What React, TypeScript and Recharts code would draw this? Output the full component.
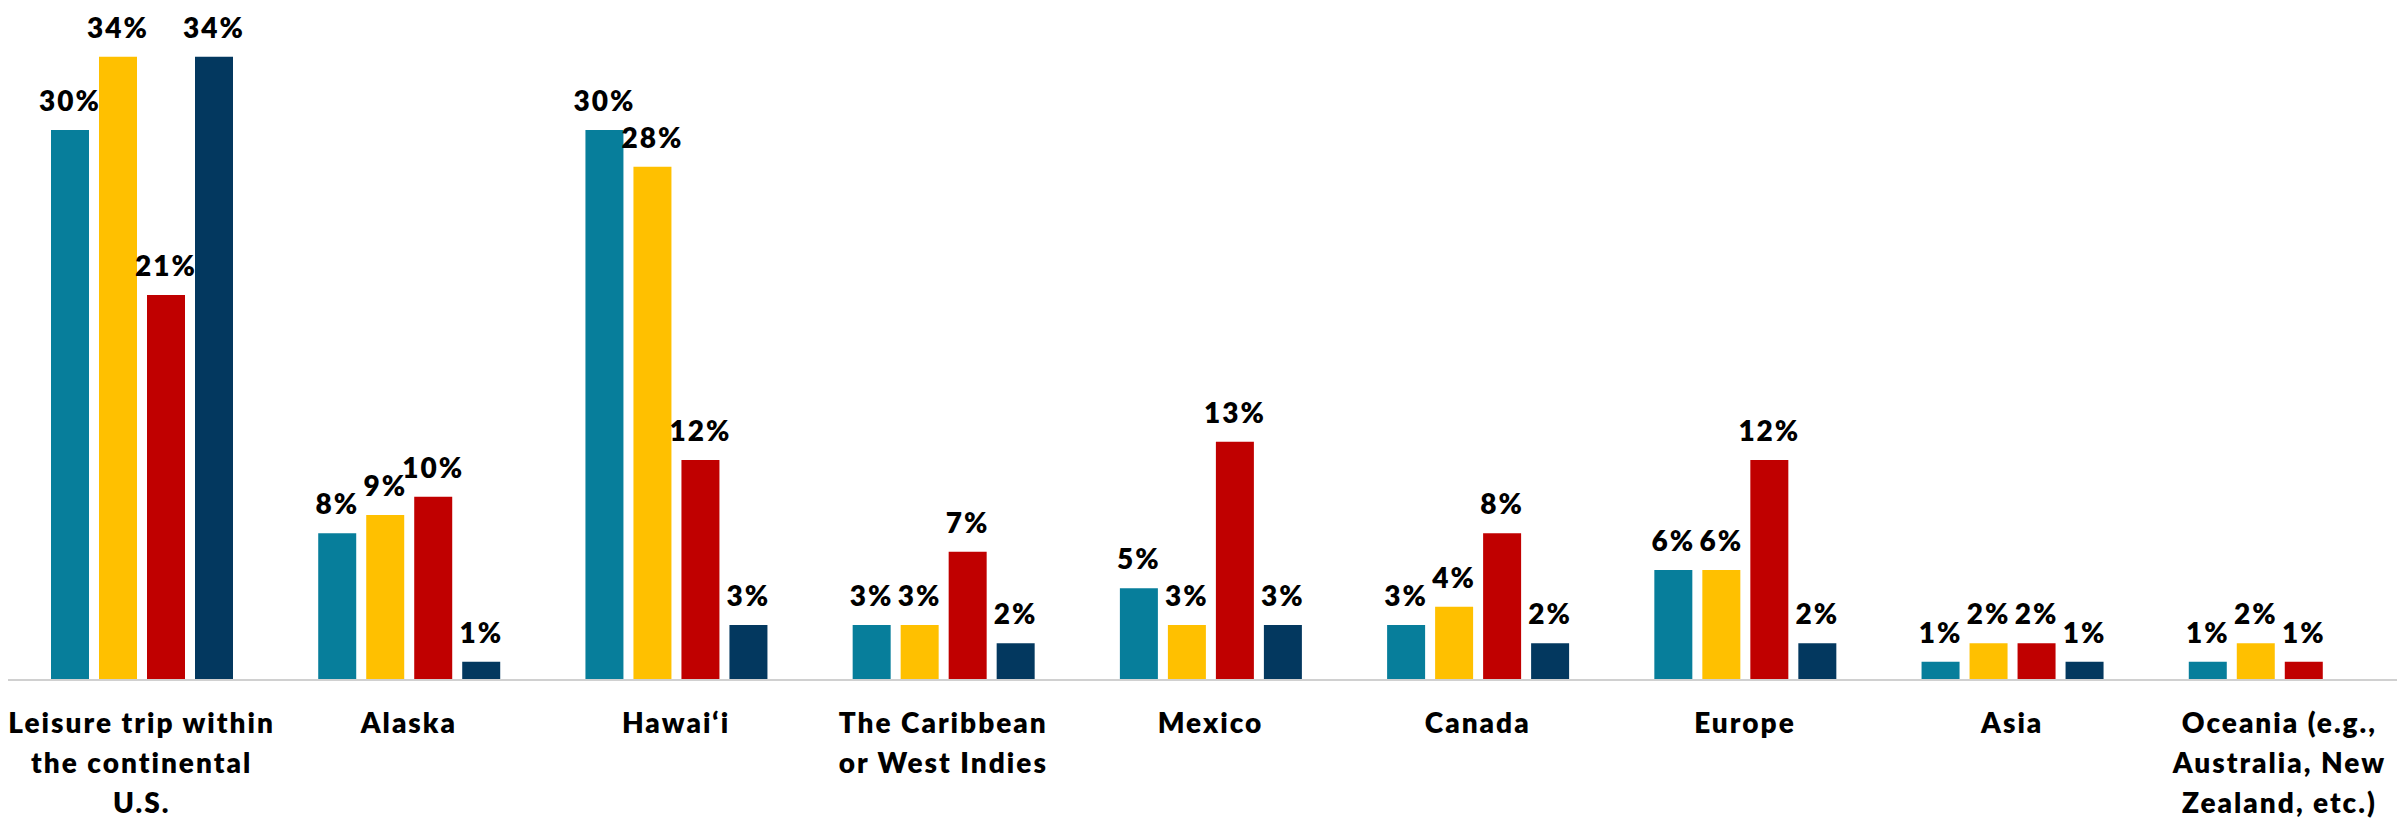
import React from "react";
import { BarChart, Bar, XAxis, YAxis, LabelList } from "recharts";

const categories = [
  "Leisure trip within\nthe continental\nU.S.",
  "Alaska",
  "Hawai\u2018i",
  "The Caribbean\nor West Indies",
  "Mexico",
  "Canada",
  "Europe",
  "Asia",
  "Oceania (e.g.,\nAustralia, New\nZealand, etc.)",
];
const seriesA = [30, 8, 30, 3, 5, 3, 6, 1, 1];
const seriesB = [34, 9, 28, 3, 3, 4, 6, 2, 2];
const seriesC = [21, 10, 12, 7, 13, 8, 12, 2, 1];
const seriesD: (number | null)[] = [34, 1, 3, 2, 3, 2, 2, 1, null];

const colors = ["#077E9B", "#FFC000", "#C00000", "#03385F"];
const keys = ["a", "b", "c", "d"];

const data = categories.map((name, i) => ({
  name,
  a: seriesA[i],
  b: seriesB[i],
  c: seriesC[i],
  d: seriesD[i],
}));

const FONT = "Lato, 'Noto Sans', sans-serif";

const Tick = (props: any) => {
  const { x, y, payload } = props;
  const lines = String(payload.value).split("\n");
  return (
    <g transform={`translate(${x},${y})`}>
      <text
        textAnchor="middle"
        fontFamily={FONT}
        fontWeight={800}
        fontSize={28}
        letterSpacing={2}
        fill="#000"
      >
        {lines.map((l, i) => (
          <tspan key={i} x={0} y={53 + i * 40}>
            {l}
          </tspan>
        ))}
      </text>
    </g>
  );
};

const fmt = (v: any) => (v == null ? "" : `${v}%`);

export default function App() {
  return (
    <div style={{ position: "fixed", left: 0, top: 0, width: 2397, height: 818, overflow: "hidden", background: "#fff" }}>
      <BarChart
        width={2413}
        height={818}
        data={data}
        margin={{ top: 20, right: 0, left: 8, bottom: 0 }}
        barGap={10}
      >
        <XAxis
          dataKey="name"
          height={138}
          interval={0}
          tickLine={false}
          tickSize={0}
          tickMargin={0}
          axisLine={{ stroke: "#D0D0D0", strokeWidth: 2 }}
          tick={<Tick />}
        />
        <YAxis hide domain={[0, 36]} />
        {keys.map((k, i) => (
          <Bar key={k} dataKey={k} fill={colors[i]} barSize={38} isAnimationActive={false}>
            <LabelList
              dataKey={k}
              position="top"
              offset={19}
              formatter={fmt}
              style={{ fontFamily: FONT, fontWeight: 800, fontSize: 28, letterSpacing: 2, fill: "#000" }}
            />
          </Bar>
        ))}
      </BarChart>
    </div>
  );
}
